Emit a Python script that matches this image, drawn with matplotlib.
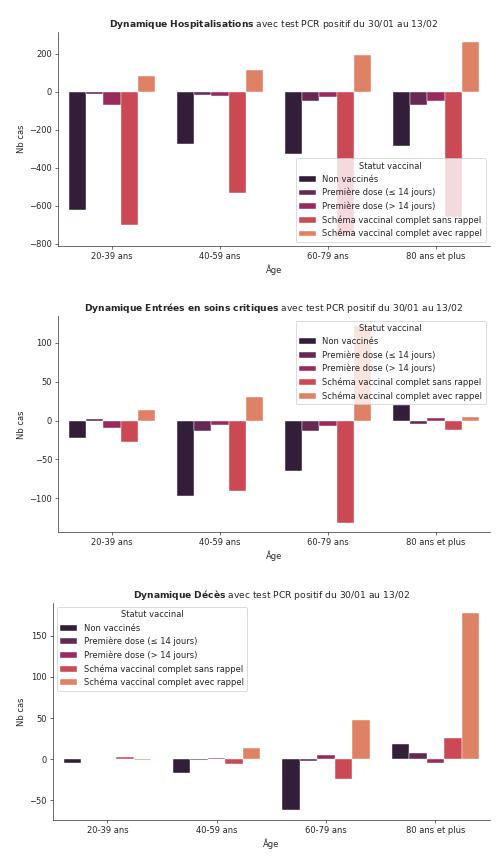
#!/usr/bin/env python3
"""
Dynamique hospitalisations / soins critiques / décès par âge et statut vaccinal
"""

import pandas as pd
import seaborn as sns
import matplotlib
matplotlib.use("Agg")
import matplotlib.pyplot as plt

# --- data ---------------------------------------------------------------------
ages = ["20-39 ans", "40-59 ans", "60-79 ans", "80 ans et plus"]
statuts = [
    "Non vaccinés",
    "Première dose (≤ 14 jours)",
    "Première dose (> 14 jours)",
    "Schéma vaccinal complet sans rappel",
    "Schéma vaccinal complet avec rappel",
]
couleurs = ["#35193e", "#701f57", "#ad1759", "#e13342", "#f37651"]  # rocket, 5

# one list per statut, values per age group
hosp_non_vax = [-620, -273, -329, -285]
hosp_d1_court = [-10, -19, -49, -70]
hosp_d1_long = [-70, -22, -28, -49]
hosp_complet = [-700, -532, -760, -660]
hosp_rappel = [83, 116, 192, 263]

rea_non_vax = [-22, -97, -65, 20]
rea_d1_court = [2, -14, -13, -5]
rea_d1_long = [-9, -6, -7, 3]
rea_complet = [-27, -91, -131, -12]
rea_rappel = [13, 30, 121, 4]

dc_non_vax = [-5, -17, -62, 19]
dc_d1_court = [0, -1, -2, 8]
dc_d1_long = [0, 1, 5, -5]
dc_complet = [2, -6, -24, 26]
dc_rappel = [-1, 14, 47, 178]

titres = ["Hospitalisations", "Entrées\\ en\\ soins\\ critiques", "Décès"]
legend_locs = ["lower right", "upper right", "upper left"]


def long_form(*series):
    rows = []
    for statut, values in zip(statuts, series):
        for age, v in zip(ages, values):
            rows.append({"Âge": age, "Statut vaccinal": statut, "Nb cas": v})
    return pd.DataFrame(rows)


def main():
    tables = [
        long_form(hosp_non_vax, hosp_d1_court, hosp_d1_long, hosp_complet, hosp_rappel),
        long_form(rea_non_vax, rea_d1_court, rea_d1_long, rea_complet, rea_rappel),
        long_form(dc_non_vax, dc_d1_court, dc_d1_long, dc_complet, dc_rappel),
    ]

    sns.set_style("ticks")
    fig = plt.figure(figsize=(502 / 60, 860 / 60), dpi=60)
    boxes = [
        [0.1155, 0.714, 0.8605, 0.249],
        [0.1155, 0.381, 0.8605, 0.251],
        [0.105, 0.0465, 0.871, 0.2525],
    ]

    for df, titre, loc, box in zip(tables, titres, legend_locs, boxes):
        ax = fig.add_axes(box)
        sns.barplot(data=df, x="Âge", y="Nb cas", hue="Statut vaccinal",
                    hue_order=statuts, palette=couleurs, saturation=0.75,
                    ax=ax, errorbar=None, edgecolor="white", linewidth=0.5)
        ax.set_title(r"$\bf{Dynamique\ " + titre + r"}$"
                     + " avec test PCR positif du 30/01 au 13/02", fontsize=11)
        ax.legend(title="Statut vaccinal", loc=loc)
        sns.despine(ax=ax)

    fig.savefig("out.png", dpi=60)


if __name__ == "__main__":
    main()
